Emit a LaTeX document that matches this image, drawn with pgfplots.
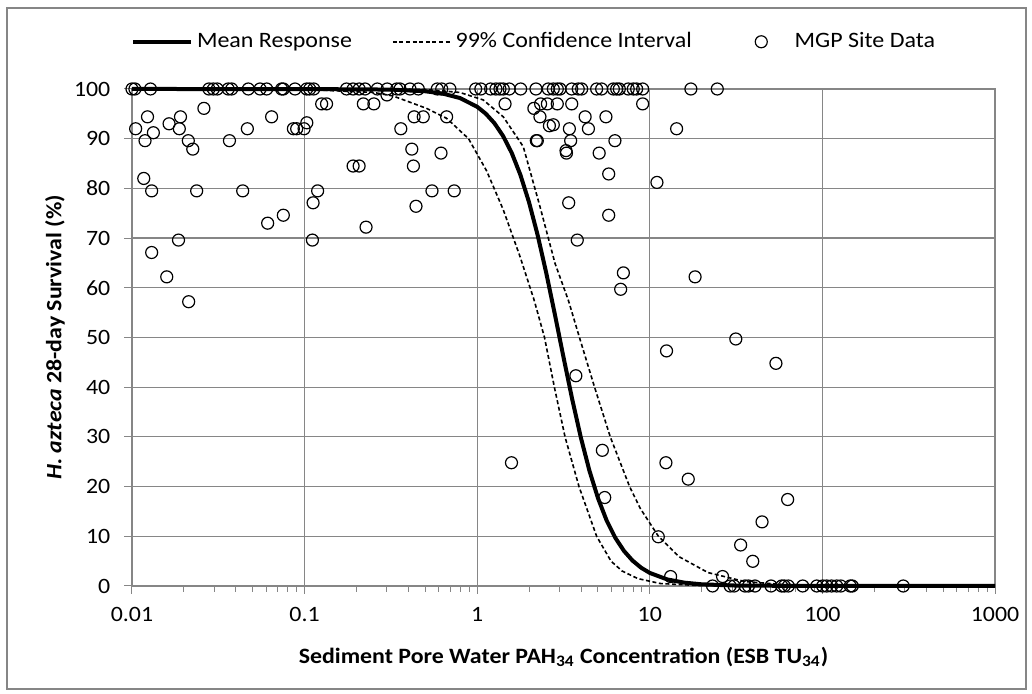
\documentclass[11pt,border=0pt]{standalone}
\usepackage{fontspec}
\setmainfont{Carlito}[FakeStretch=1.09]
\usepackage{pgfplots}
\pgfplotsset{compat=1.18}

\definecolor{gridgray}{RGB}{134,134,134}
\pgfplotsset{ringlegend/.style={legend image code/.code={%
    \path (0pt,0pt) (29pt,0pt);
    \draw[mark repeat=2,mark phase=2,##1]
    plot coordinates {(0pt,0pt) (14.5pt,0pt) (29pt,0pt)};}}}

\begin{document}
\begin{tikzpicture}
\begin{axis}[
    scale only axis,
    width=431.5pt, height=248.5pt,
    xmode=log,
    xmin=0.01, xmax=1000,
    ymin=0, ymax=100,
    xtick={0.01,0.1,1,10,100,1000},
    xticklabels={0.01,0.1,1,10,100,1000},
    minor xtick={0.02,0.03,0.04,0.05,0.06,0.07,0.08,0.09,
                 0.2,0.3,0.4,0.5,0.6,0.7,0.8,0.9,
                 2,3,4,5,6,7,8,9,20,30,40,50,60,70,80,90,
                 200,300,400,500,600,700,800,900},
    ytick={0,10,...,100},
    /pgf/number format/assume math mode=true,
    tick align=outside, tick pos=left,
    major tick length=4pt, minor tick length=3pt,
    every tick/.style={gridgray, line width=0.5pt},
    axis line style={gridgray, line width=0.6pt},
    xmajorgrids, ymajorgrids,
    grid style={gridgray, line width=0.6pt},
    yticklabel style={xshift=-3pt},
    xticklabel style={yshift=-3pt},
    xlabel={\textbf{Sediment Pore Water PAH\textsubscript{34} Concentration (ESB TU\textsubscript{34})}},
    ylabel={\textbf{\textit{H. azteca} 28-day Survival (\%)}},
    xlabel style={at={(axis description cs:0.5,-0.143)}, anchor=center},
    ylabel style={at={(axis description cs:-0.0892,0.5)}, anchor=center, rotate=0},
    legend style={at={(rel axis cs:0.467,1.095)}, anchor=center, draw=none,
        legend columns=-1, font=\fontsize{11}{13}\selectfont,
        /tikz/every even column/.append style={column sep=18pt}},
    ringlegend,
    clip=false,
]
% mean response
\addplot[black, line width=2pt] coordinates {
(0.01,100)(0.1,99.99)(0.3162,99.88)(0.5012,99.54)(0.6310,99.08)(0.7943,98.18)
(1,96.42)(1.122,95.02)(1.2589,93.11)(1.4125,90.54)(1.5849,87.14)(1.7783,82.75)
(1.9953,77.26)(2.2387,70.63)(2.5119,62.99)(2.8184,54.65)(3.1623,46.04)(3.5481,37.65)
(3.9811,29.95)(4.4668,23.23)(5.0119,17.65)(5.6234,13.17)(6.3096,9.70)(7.0795,7.07)
(7.9433,5.11)(8.9125,3.67)(10,2.63)(12.589,1.33)(15.849,0.67)(19.953,0.34)
(31.623,0.085)(100,0)(1000,0)
};
\addlegendentry{Mean Response}
% upper 99% CI
\addplot[black, line width=0.8pt, dash pattern=on 2pt off 1.3pt] coordinates {
(0.01,100)(0.3,100)(0.501,99.9)(0.794,99.3)(1.084,97.8)(1.416,94.4)(1.849,88.4)
(2.312,76.3)(2.825,64.9)(3.373,57.5)(3.945,49.6)(4.786,40)(5.902,30)(7.638,20)
(8.810,15.6)(11.22,10)(14.76,5.9)(21.73,2.7)(35.48,0.9)(56.23,0.35)(100,0.12)
(316,0.01)(1000,0)
};
\addlegendentry{99\% Confidence Interval}
% lower 99% CI
\addplot[black, line width=0.8pt, dash pattern=on 2pt off 1.3pt, forget plot] coordinates {
(0.01,100)(0.1,99.9)(0.2512,99.3)(0.325,98.6)(0.509,96.1)(0.665,94.1)(0.891,90.0)
(1.135,83.5)(1.416,75.7)(1.770,66.3)(2.138,57.5)(2.455,50)(2.80,40)(3.228,30)
(3.89,20)(4.92,10)(5.96,5)(6.92,3)(8.51,1.5)(11.48,0.5)(19.05,0.1)(39.8,0)(1000,0)
};
% site data
\addplot[only marks, mark=o, mark size=3pt, black, mark options={line width=0.6pt},
    ringlegend] coordinates {
(0.01,100)(0.0104,100)(0.0128,100)(0.0279,100)(0.0296,100)(0.0312,100)(0.0361,100)
(0.0378,100)(0.0472,100)(0.0552,100)(0.0603,100)(0.0736,100)(0.0753,100)(0.0880,100)
(0.1028,100)(0.107,100)(0.113,100)(0.175,100)(0.191,100)(0.207,100)(0.224,100)
(0.264,100)(0.301,100)(0.342,100)(0.357,100)(0.408,100)(0.456,100)(0.587,100)
(0.623,100)(0.695,100)(0.98,100)(1.05,100)(1.196,100)(1.284,100)(1.355,100)
(1.416,100)(1.534,100)(1.786,100)(2.19,100)(2.58,100)(2.76,100)(2.91,100)(3.02,100)
(3.53,100)(3.85,100)(4.03,100)(4.92,100)(5.26,100)(6.15,100)(6.43,100)(6.66,100)
(7.50,100)(8.02,100)(8.39,100)(9.09,100)(17.3,100)(24.6,100)
(0.0261,96.1)(0.0123,94.4)(0.0191,94.4)(0.0644,94.4)(0.0105,92.0)(0.0164,93.0)
(0.0188,92.0)(0.0133,91.2)(0.0119,89.6)(0.0212,89.6)(0.0225,87.9)(0.0367,89.6)
(0.0466,92.0)(0.0861,92.0)(0.090,92.0)(0.0993,92.0)(0.103,93.2)(0.0117,82.0)
(0.013,79.5)(0.0237,79.5)(0.0438,79.5)(0.0611,73.0)(0.0753,74.6)(0.0186,69.6)
(0.013,67.1)(0.0159,62.2)(0.0213,57.2)
(0.30,98.8)(0.1256,97.0)(0.134,97.0)(0.219,97.0)(0.252,97.0)(0.431,94.4)(0.487,94.4)
(0.665,94.4)(0.361,92.0)(0.418,87.9)(0.427,84.5)(0.617,87.1)(0.191,84.5)(0.207,84.5)
(0.119,79.5)(0.112,77.1)(0.547,79.5)(0.736,79.5)(0.442,76.4)(0.227,72.2)(0.111,69.6)
(1.45,97.0)(2.13,96.1)(2.33,97.0)(2.55,97.0)(2.91,97.0)(3.53,97.0)(9.09,97.0)
(2.31,94.4)(4.22,94.4)(5.57,94.4)(2.62,92.6)(2.76,92.8)(3.42,92.0)(4.41,92.0)
(2.20,89.6)(2.23,89.6)(3.48,89.6)(6.28,89.6)(3.27,87.6)(3.29,87.1)(5.09,87.1)
(5.78,82.9)(11.0,81.2)(3.39,77.1)(5.78,74.6)(3.80,69.6)(7.03,63.0)(6.78,59.7)
(3.73,42.3)(5.31,27.3)(5.48,17.8)(1.58,24.8)
(14.3,92.0)(18.3,62.2)
(12.5,47.3)(31.5,49.7)(53.8,44.8)(12.4,24.8)(16.7,21.5)(62.9,17.4)(44.7,12.9)
(33.6,8.25)(39.5,4.97)(11.2,9.9)(13.2,1.9)(26.4,1.9)
(23.1,0)(29.2,0)(30.8,0)(35.6,0)(37.3,0)(40.7,0)(50.4,0)(58.1,0)(60.2,0)(63.5,0)
(76.9,0)(92.7,0)(100.4,0)(106,0)(113,0)(121,0)(128,0)(145,0)(149,0)(294,0)
};
\addlegendentry{MGP Site Data}
\end{axis}
\draw[gridgray, line width=0.6pt] (-62.5pt,-51.5pt) rectangle (447pt,289pt);
\path (-66pt,-54pt) rectangle (450pt,293pt);
\end{tikzpicture}
\end{document}
